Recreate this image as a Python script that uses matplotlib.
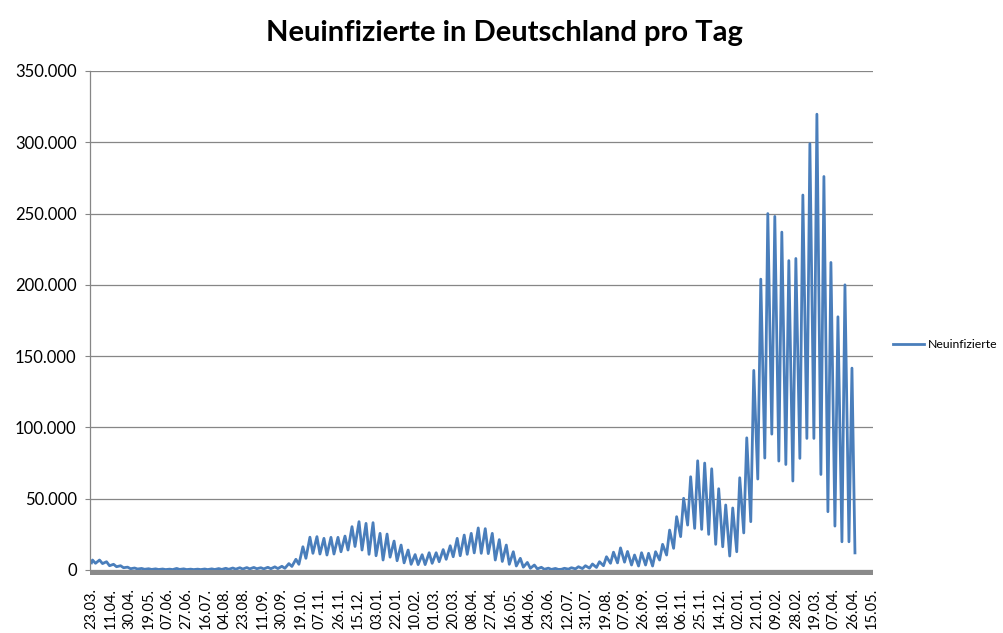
import matplotlib
matplotlib.use("Agg")
import matplotlib.pyplot as plt
from matplotlib.ticker import FuncFormatter, FixedLocator, MultipleLocator

plt.rcParams["font.family"] = ["Lato", "DejaVu Sans"]

title = "Neuinfizierte in Deutschland pro Tag"
series_name = "Neuinfizierte"

# category labels, one every 19 days (category axis, 23.03.2020 - 15.05.2022)
tick_labels = ["23.03.", "11.04.", "30.04.", "19.05.", "07.06.", "27.06.", "16.07.",
               "04.08.", "23.08.", "11.09.", "30.09.", "19.10.", "07.11.", "26.11.",
               "15.12.", "03.01.", "22.01.", "10.02.", "01.03.", "20.03.", "08.04.",
               "27.04.", "16.05.", "04.06.", "23.06.", "12.07.", "31.07.", "19.08.",
               "07.09.", "26.09.", "18.10.", "06.11.", "25.11.", "14.12.", "02.01.",
               "21.01.", "09.02.", "28.02.", "19.03.", "07.04.", "26.04.", "15.05."]
label_step = 19

# weekly highs/lows (first part: high on day 7k+1, low on 7k+4)
early_highs = [7000, 7000, 5800, 4000, 3000, 2000, 1400, 1100, 900, 800,
               700, 600, 1100, 800, 600, 600, 700, 800, 1000, 1200,
               1400, 1600, 1700, 1800, 1600, 1900, 2200, 2600, 4500, 7500,
               16300, 23000, 23400, 22200, 22900, 22900, 23800, 30400, 33900, 32700,
               33200, 25700, 25200, 20300, 17500, 14000, 10800, 10700, 12100, 12100,
               14300, 17000, 22200, 24500, 25700, 29500, 29000, 25700, 21300, 17500,
               12800, 8200, 5300, 3500, 1900, 1300, 1100]
early_lows = [4700, 4500, 3000, 2300, 1600, 900, 700, 500, 400, 350,
              300, 300, 400, 300, 300, 300, 300, 350, 400, 500,
              600, 700, 800, 900, 800, 900, 1000, 1200, 2500, 4000,
              8200, 11700, 11200, 10500, 11200, 12800, 14000, 16500, 14000, 11000,
              10000, 7000, 9000, 6500, 5000, 4000, 3800, 3800, 4700, 5800,
              7500, 9300, 10000, 11000, 12000, 11700, 11500, 7000, 6000, 4000,
              2800, 2000, 1200, 800, 500, 400, 400]
# second part: low on day 7k, high on 7k+3 (weeks 67..108)
late_lows = [500, 600, 800, 1000, 1300, 1800, 3000, 4700, 5000, 5500,
             3500, 2800, 3500, 2800, 7000, 10500, 15200, 23400, 31500, 29200,
             28500, 25000, 18000, 16300, 9800, 12800, 26000, 33900, 63800, 78500,
             95300, 76400, 74000, 62400, 78300, 92300, 92300, 67000, 40900, 30800,
             19800, 19800]
late_highs = [1200, 1600, 2300, 3000, 4200, 5800, 9300, 12500, 15500, 13000,
              10500, 12100, 11700, 12800, 18000, 28000, 37400, 50300, 65400, 76600,
              75000, 71000, 57000, 45600, 43500, 64700, 92700, 140000, 204000, 250000,
              248000, 237000, 217000, 218500, 263000, 299000, 319700, 276000, 215700, 177600,
              200000, 141600]
first_value = 5000
last_value = 12000
last_day = 762

days = [0]
cases = [first_value]
for k, (hi, lo) in enumerate(zip(early_highs, early_lows)):
    days += [7 * k + 1, 7 * k + 4]
    cases += [hi, lo]
k0 = len(early_highs)
for j, (lo, hi) in enumerate(zip(late_lows, late_highs)):
    k = k0 + j
    days += [7 * k, 7 * k + 3]
    cases += [lo, hi]
days.append(last_day)
cases.append(last_value)

n_cat = label_step * (len(tick_labels) - 1) + 1

W, H = 1004, 633
fig = plt.figure(figsize=(W / 100, H / 100), dpi=100)
left, right, bottom, top = 90, 873, 570, 71
ax = fig.add_axes([left / W, 1 - bottom / H, (right - left) / W, (bottom - top) / H])

grey = "#868686"
ax.plot(days, cases, color="#4A7EBB", lw=2.0, label=series_name, solid_joinstyle="round")

ax.set_ylim(0, 350000)
ax.set_xlim(-1.5, n_cat)
ax.yaxis.set_major_locator(MultipleLocator(50000))
ax.yaxis.set_major_formatter(FuncFormatter(lambda v, p: f"{int(v):,}".replace(",", ".")))
ax.grid(axis="y", color=grey, lw=0.9)
ax.set_axisbelow(True)

ax.xaxis.set_major_locator(FixedLocator([i * label_step for i in range(len(tick_labels))]))
ax.set_xticklabels(tick_labels, rotation=90, fontsize=10.5)
ax.tick_params(axis="x", length=0, pad=13)
ax.tick_params(axis="y", length=3.6, width=0.8, color=grey, labelsize=12, pad=6)

for s in ["top", "right", "bottom"]:
    ax.spines[s].set_visible(False)
ax.spines["left"].set_color(grey)
ax.spines["left"].set_linewidth(0.9)

# dense category tick band along the x axis
band = fig.add_axes([left / W, 1 - (bottom + 5) / H, (right - left) / W, 5 / H])
band.set_facecolor("#8a8a8a")
band.set_xticks([])
band.set_yticks([])
for s in band.spines.values():
    s.set_visible(False)

fig.text(0.502, 0.948, title, ha="center", va="center", fontsize=21, fontweight="bold")

ax.legend(loc="center left", bbox_to_anchor=(0.889, 0.455), bbox_transform=fig.transFigure,
          frameon=False, handlelength=2.6, handletextpad=0.3, borderaxespad=0, borderpad=0,
          fontsize=8.8)

fig.savefig("out.png", dpi=100)
